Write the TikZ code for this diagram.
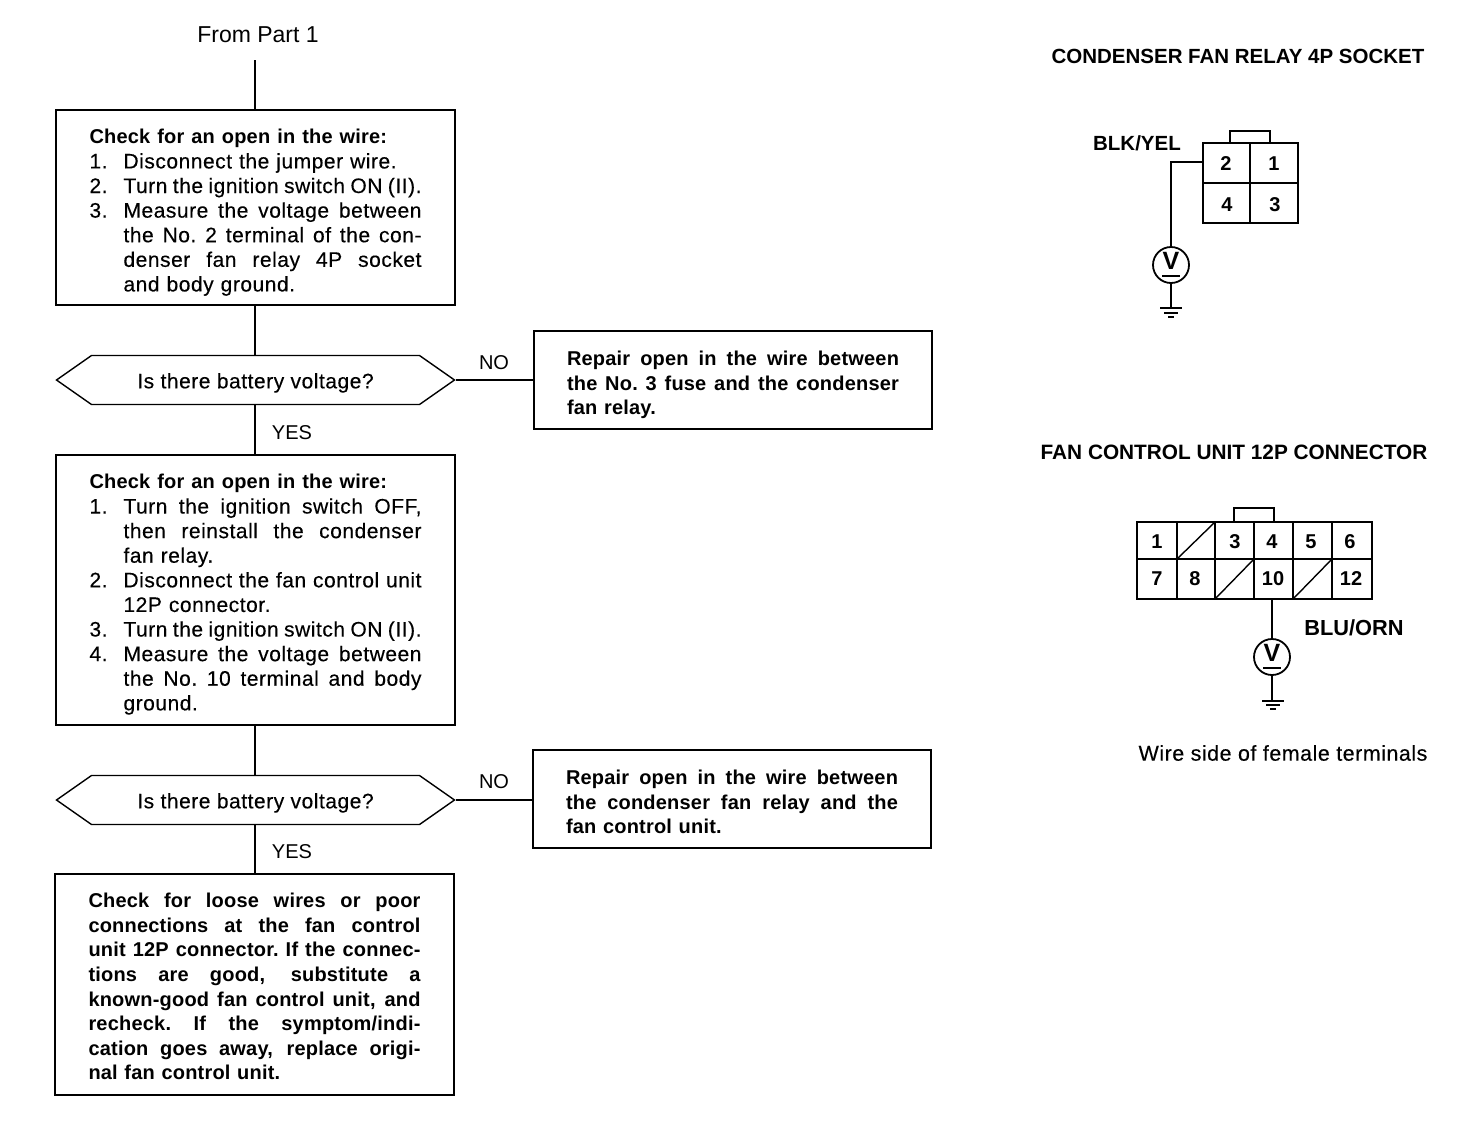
\documentclass[tikz,border=0pt]{standalone}
\usepackage{fontspec}
\setmainfont{Liberation Sans}
\newfontfamily\rfam[LetterSpace=2.5,FakeBold=0.3]{Liberation Sans}
\newfontfamily\bfam[LetterSpace=1]{Liberation Sans}
\usetikzlibrary{shapes.symbols}
\newcommand{\wsk}{\spaceskip=4pt plus 1fil minus 1pt\relax\xspaceskip=\spaceskip}
\newcommand{\tj}[1]{\makebox[332pt][s]{\wsk #1}}
\newcommand{\tl}[2]{\leavevmode\hbox to 332pt{\hbox to 34pt{#1\hfil}\makebox[298pt][s]{\wsk #2}}}
\newcommand{\tc}[1]{\leavevmode\hbox to 332pt{\hbox to 34pt{\hfil}#1\hfil}}
\newcommand{\tn}[2]{\leavevmode\hbox to 332pt{\hbox to 34pt{#1\hfil}#2\hfil}}
\newcommand{\regf}{\fontsize{21}{24.6}\selectfont\rfam}
\newcommand{\bldf}{\fontsize{20}{24.6}\selectfont\bfam\bfseries}
\newcommand{\tp}[1]{\rule{0pt}{#1}}
\newcommand{\dectext}{\raisebox{-3pt}[15pt][4.4pt]{Is there battery voltage?}}
\tikzset{
  wire/.style={draw=black,line width=1.4pt},
  heavy/.style={draw=black,line width=2pt},
  txt/.style={font=\fontsize{20}{24.6}\selectfont,inner sep=0pt},
  btxt/.style={font=\fontsize{20.5}{24.6}\selectfont\bfseries,inner sep=0pt},
  procbox/.style={draw=black,line width=1.4pt,text width=332pt,minimum width=399pt,inner sep=0pt,align=left,font=\regf},
  boldbox/.style={procbox,font=\bldf},
  decbox/.style={draw=black,line width=1.4pt,signal,signal to=east and west,signal pointer angle=70,minimum width=398pt,minimum height=49pt,inner sep=0pt,font=\regf},
  meter/.style={circle,draw=black,line width=1.8pt,minimum size=36pt,inner sep=0pt},
  vmark/.style={font=\fontsize{25}{25}\selectfont\bfseries,inner sep=0pt},
  pin/.style={font=\fontsize{20}{24}\selectfont\bfseries,inner sep=0pt},
}
\begin{document}
\begin{tikzpicture}[x=1pt,y=-1pt]
\useasboundingbox (0,0) rectangle (1472,1144);
\node[txt,font=\fontsize{23}{26}\selectfont] (from) at (258,35) {From Part 1};
\coordinate (fromend) at (255,60);

\node[procbox,minimum height=195pt] (b1) at (255.5,207.5) {%
\tp{24.6pt}{\bldf Check for an open in the wire:}\\
\tn{1.}{Disconnect the jumper wire.}\\
\tl{2.}{Turn the ignition switch ON (II).}\\
\tl{3.}{Measure the voltage between}\\
\tl{}{the No. 2 terminal of the con-}\\
\tl{}{denser fan relay 4P socket}\\
\tc{and body ground.}};

\node[decbox] (d1) at (255.5,380) {\dectext};
\node[boldbox,minimum width=398pt,minimum height=98pt] (r1) at (733,380) {%
\tp{24.6pt}\tj{Repair open in the wire between}\\
\tj{the No. 3 fuse and the condenser}\\
fan relay.};
\node[txt] (no1) at (494,363) {NO};
\node[txt] (yes1) at (292,433) {YES};

\node[procbox,minimum height=270pt] (b2) at (255.5,590) {%
\tp{23.6pt}{\bldf Check for an open in the wire:}\\
\tl{1.}{Turn the ignition switch OFF,}\\
\tl{}{then reinstall the condenser}\\
\tc{fan relay.}\\
\tl{2.}{Disconnect the fan control unit}\\
\tc{12P connector.}\\
\tl{3.}{Turn the ignition switch ON (II).}\\
\tl{4.}{Measure the voltage between}\\
\tl{}{the No. 10 terminal and body}\\
\tc{ground.}};

\node[decbox] (d2) at (255.5,800) {\dectext};
\node[boldbox,minimum width=398pt,minimum height=98pt] (r2) at (732,799) {%
\tp{20.6pt}\tj{Repair open in the wire between}\\
\tj{the condenser fan relay and the}\\
fan control unit.};
\node[txt] (no2) at (494,782) {NO};
\node[txt] (yes2) at (292,852) {YES};

\node[boldbox,minimum height=221pt] (b3) at (254.5,984.5) {%
\tp{18.6pt}\tj{Check for loose wires or poor}\\
\tj{connections at the fan control}\\
\tj{unit 12P connector. If the connec-}\\
\tj{tions are good, substitute a}\\
\tj{known-good fan control unit, and}\\
\tj{recheck. If the symptom/indi-}\\
\tj{cation goes away, replace origi-}\\
nal fan control unit.};

\draw[wire] (fromend) -- (b1.north -| fromend);
\draw[wire] (b1.south -| fromend) -- (d1.north -| fromend);
\draw[wire] (d1.south -| fromend) -- (b2.north -| fromend);
\draw[wire] (b2.south -| fromend) -- (d2.north -| fromend);
\draw[wire] (d2.south -| fromend) -- (b3.north -| fromend);
\draw[wire] (d1.east) -- (r1.west);
\draw[wire] (d2.east) -- (d2.east -| r2.west);

% 4P socket
\node[btxt] (t4p) at (1238,56) {CONDENSER FAN RELAY 4P SOCKET};
\node[btxt] (blk) at (1137,143) {BLK/YEL};
\draw[heavy] (1203,143) rectangle (1298,223);
\draw[wire] (1250,143) -- (1250,223) (1203,183) -- (1298,183);
\draw[wire] (1230,143) -- (1230,131) -- (1270,131) -- (1270,143);
\node[pin] (p2) at (1226,164) {2};
\node[pin] (p1) at (1274,164) {1};
\node[pin] (p4) at (1227,205) {4};
\node[pin] (p3) at (1275,205) {3};
\node[meter] (m1) at (1171,265) {};
\node[vmark] (v1) at (1171,261) {V};
\coordinate (m1u) at (1162,276);
\draw[wire] (m1u) -- ++(18,0);
\coordinate (w1) at (1203,162);
\draw[wire] (w1) -| (m1.north);
\coordinate (g1) at (1171,308);
\draw[wire] (m1.south) -- (g1);
\draw[wire] (1160,308) -- (1182,308) (1164,313) -- (1178,313) (1168,317) -- (1174,317);

% 12P connector
\node[btxt,font=\fontsize{20.8}{24.6}\selectfont\bfseries] (t12p) at (1234,452) {FAN CONTROL UNIT 12P CONNECTOR};
\draw[heavy] (1137,522) rectangle (1372,599);
\draw[wire] (1137,559) -- (1372,559);
\foreach \x in {1177,1215,1254,1293,1332} \draw[wire] (\x,522) -- (\x,599);
\draw[wire] (1177,559) -- (1215,522) (1215,599) -- (1254,559) (1293,599) -- (1332,559);
\draw[wire] (1234,522) -- (1234,508) -- (1274,508) -- (1274,522);
\node[pin] (q1) at (1157,542) {1};
\node[pin] (q3) at (1235,542) {3};
\node[pin] (q4) at (1272,542) {4};
\node[pin] (q5) at (1311,542) {5};
\node[pin] (q6) at (1350,542) {6};
\node[pin] (q7) at (1157,579) {7};
\node[pin] (q8) at (1195,579) {8};
\node[pin] (q10) at (1273,579) {10};
\node[pin] (q12) at (1351,579) {12};
\node[btxt,font=\fontsize{21.8}{24.6}\selectfont\bfseries] (blu) at (1354,628) {BLU/ORN};
\node[meter] (m2) at (1272,657) {};
\node[vmark] (v2) at (1272,653) {V};
\coordinate (m2u) at (1263,668);
\draw[wire] (m2u) -- ++(18,0);
\coordinate (w2) at (1272,599);
\draw[wire] (w2) -- (m2.north);
\coordinate (g2) at (1272,701);
\draw[wire] (m2.south) -- (g2);
\draw[wire] (1262,701) -- (1284,701) (1266,705) -- (1280,705) (1270,709) -- (1276,709);
\node[inner sep=0pt,font=\fontsize{21.4}{24.6}\selectfont\rfam] (wside) at (1283,753) {Wire side of female terminals};
\end{tikzpicture}
\end{document}
